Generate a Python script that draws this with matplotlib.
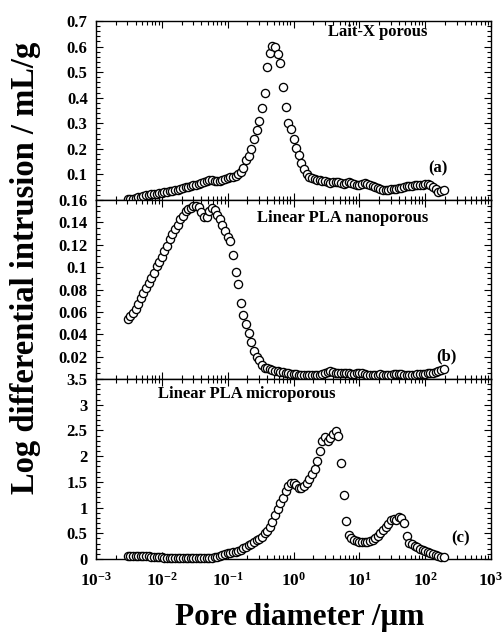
import matplotlib.pyplot as plt
import numpy as np
from matplotlib.ticker import MultipleLocator, LogLocator, NullFormatter

plt.rcParams['font.family'] = 'Liberation Serif'
plt.rcParams['font.weight'] = 'bold'
plt.rcParams['mathtext.fontset'] = 'custom'
plt.rcParams['mathtext.rm'] = 'Liberation Serif:bold'
plt.rcParams['mathtext.bf'] = 'Liberation Serif:bold'

# log10 of pore diameter (um) at each intrusion step
log_diameter = [
    -2.52, -2.48, -2.44, -2.40, -2.36, -2.32, -2.28, -2.24, -2.20, -2.16,
    -2.12, -2.08, -2.04, -2.00, -1.96, -1.92, -1.88, -1.84, -1.80, -1.76,
    -1.72, -1.68, -1.64, -1.60, -1.56, -1.52, -1.48, -1.44, -1.40, -1.36,
    -1.32, -1.28, -1.24, -1.20, -1.16, -1.12, -1.08, -1.04, -1.00, -0.96,
    -0.92, -0.88, -0.84, -0.80, -0.76, -0.72, -0.68, -0.64, -0.60, -0.56,
    -0.52, -0.48, -0.44, -0.40, -0.36, -0.32, -0.28, -0.24, -0.20, -0.16,
    -0.12, -0.08, -0.04, 0.00, 0.04, 0.08, 0.12, 0.16, 0.20, 0.24,
    0.28, 0.32, 0.36, 0.40, 0.44, 0.48, 0.52, 0.56, 0.60, 0.64,
    0.68, 0.72, 0.76, 0.80, 0.84, 0.88, 0.92, 0.96, 1.00, 1.04,
    1.08, 1.12, 1.16, 1.20, 1.24, 1.28, 1.32, 1.36, 1.40, 1.44,
    1.48, 1.52, 1.56, 1.60, 1.64, 1.68, 1.72, 1.76, 1.80, 1.84,
    1.88, 1.92, 1.96, 2.00, 2.04, 2.08, 2.12, 2.16, 2.20, 2.24,
    2.28,
]

# log differential intrusion, mL/g
lait_x_porous = [
    0.003, 0.004, 0.005, 0.008, 0.011, 0.013, 0.016, 0.019, 0.021, 0.022,
    0.023, 0.024, 0.026, 0.027, 0.030, 0.032, 0.034, 0.036, 0.038, 0.041,
    0.044, 0.046, 0.049, 0.051, 0.053, 0.057, 0.060, 0.063, 0.066, 0.071,
    0.076, 0.080, 0.080, 0.076, 0.073, 0.074, 0.079, 0.083, 0.085, 0.088,
    0.091, 0.095, 0.100, 0.110, 0.125, 0.158, 0.172, 0.200, 0.237, 0.274,
    0.310, 0.360, 0.420, 0.520, 0.575, 0.602, 0.598, 0.572, 0.535, 0.440,
    0.365, 0.300, 0.276, 0.238, 0.205, 0.177, 0.143, 0.120, 0.102, 0.091,
    0.085, 0.081, 0.079, 0.077, 0.075, 0.073, 0.069, 0.068, 0.071, 0.072,
    0.070, 0.066, 0.063, 0.066, 0.069, 0.066, 0.061, 0.059, 0.060, 0.063,
    0.065, 0.064, 0.058, 0.053, 0.050, 0.046, 0.042, 0.038, 0.039, 0.041,
    0.043, 0.042, 0.044, 0.046, 0.048, 0.051, 0.054, 0.055, 0.056, 0.057,
    0.058, 0.059, 0.060, 0.062, 0.063, 0.060, 0.052, 0.042, 0.031, 0.036,
    0.040,
]

pla_nanoporous = [
    0.054, 0.056, 0.059, 0.063, 0.067, 0.072, 0.077, 0.081, 0.086, 0.090,
    0.095, 0.101, 0.105, 0.109, 0.114, 0.119, 0.125, 0.130, 0.134, 0.138,
    0.143, 0.146, 0.150, 0.152, 0.153, 0.155, 0.155, 0.154, 0.149, 0.145,
    0.145, 0.150, 0.153, 0.151, 0.147, 0.143, 0.138, 0.132, 0.127, 0.123,
    0.111, 0.096, 0.085, 0.068, 0.057, 0.049, 0.041, 0.033, 0.025, 0.020,
    0.017, 0.0125, 0.010, 0.0095, 0.0085, 0.008, 0.0075, 0.007, 0.0065, 0.006,
    0.0055, 0.005, 0.0048, 0.0045, 0.0042, 0.004, 0.0038, 0.0035, 0.0033, 0.0032,
    0.0033, 0.0035, 0.0038, 0.004, 0.0045, 0.0055, 0.0065, 0.0068, 0.0062, 0.0058,
    0.0055, 0.0052, 0.005, 0.0055, 0.0052, 0.0045, 0.0045, 0.005, 0.0056, 0.0052,
    0.0045, 0.004, 0.0038, 0.0036, 0.0037, 0.004, 0.0042, 0.004, 0.0038, 0.0036,
    0.0038, 0.0042, 0.0045, 0.0046, 0.0042, 0.0038, 0.0035, 0.0033, 0.0036, 0.004,
    0.0042, 0.0044, 0.0045, 0.0048, 0.0052, 0.0055, 0.0056, 0.0062, 0.0072, 0.008,
    0.0092,
]

pla_microporous = [
    0.06, 0.06, 0.055, 0.05, 0.05, 0.055, 0.06, 0.055, 0.05, 0.045,
    0.04, 0.04, 0.035, 0.03, 0.025, 0.025, 0.02, 0.02, 0.015, 0.015,
    0.01, 0.01, 0.01, 0.01, 0.01, 0.01, 0.015, 0.015, 0.02, 0.02,
    0.02, 0.02, 0.025, 0.03, 0.04, 0.06, 0.08, 0.10, 0.11, 0.12,
    0.13, 0.145, 0.16, 0.18, 0.21, 0.24, 0.27, 0.30, 0.33, 0.36,
    0.39, 0.43, 0.50, 0.55, 0.62, 0.72, 0.86, 0.97, 1.08, 1.19,
    1.32, 1.42, 1.47, 1.47, 1.43, 1.39, 1.38, 1.42, 1.47, 1.55,
    1.65, 1.75, 1.90, 2.10, 2.30, 2.38, 2.30, 2.36, 2.44, 2.49,
    2.39, 1.87, 1.24, 0.74, 0.46, 0.40, 0.37, 0.35, 0.34, 0.34,
    0.33, 0.34, 0.35, 0.37, 0.40, 0.45, 0.50, 0.57, 0.63, 0.69,
    0.75, 0.77, 0.76, 0.82, 0.79, 0.70, 0.45, 0.32, 0.29, 0.26,
    0.23, 0.20, 0.17, 0.15, 0.13, 0.11, 0.09, 0.075, 0.06, 0.045,
    0.035,
]

sample_names = ['Lait-X porous', 'Linear PLA nanoporous', 'Linear PLA microporous']
panel_tags = ['(a)', '(b)', '(c)']

y_ticks = [
    [0, 0.1, 0.2, 0.3, 0.4, 0.5, 0.6, 0.7],
    [0, 0.02, 0.04, 0.06, 0.08, 0.10, 0.12, 0.14, 0.16],
    [0, 0.5, 1.0, 1.5, 2.0, 2.5, 3.0, 3.5],
]
y_ticklabels = [
    ['', '0.1', '0.2', '0.3', '0.4', '0.5', '0.6', '0.7'],
    ['', '0.02', '0.04', '0.06', '0.08', '0.1', '0.12', '0.14', '0.16'],
    ['0', '0.5', '1', '1.5', '2', '2.5', '3', '3.5'],
]
y_minor = [0.02, 0.005, 0.1]

x_ticks = [1e-3, 1e-2, 1e-1, 1e0, 1e1, 1e2, 1e3]
x_ticklabels = [r'$\mathbf{10^{-3}}$', r'$\mathbf{10^{-2}}$', r'$\mathbf{10^{-1}}$',
                r'$\mathbf{10^{0}}$', r'$\mathbf{10^{1}}$', r'$\mathbf{10^{2}}$',
                r'$\mathbf{10^{3}}$']

W, H = 503, 633
fig = plt.figure(figsize=(W / 100, H / 100), dpi=100)

# panel edges in pixels (top, bottom)
edges = [(21, 200), (200, 379), (379, 559)]
left_px, right_px = 96, 491

# sample name: (x, baseline y, ha) in axes fraction; tag: (x, centre y)
name_pos = [(0.84, 0.918, 'right'), (0.84, 0.877, 'right'), (0.157, 0.894, 'left')]
tag_pos = [(0.891, 0.179), (0.914, 0.128), (0.947, 0.117)]

diameter = 10 ** np.array(log_diameter)
series = [lait_x_porous, pla_nanoporous, pla_microporous]

for k in range(3):
    top, bot = edges[k]
    ax = fig.add_axes([left_px / W, 1 - bot / H, (right_px - left_px) / W, (bot - top) / H])
    ax.plot(diameter, series[k], 'o', ms=5.9, mfc='white', mec='black', mew=0.95,
            clip_on=False, zorder=3)
    ax.set_xscale('log')
    ax.set_xlim(1e-3, 1e3)
    ax.set_ylim(0, y_ticks[k][-1])
    ax.set_xticks(x_ticks)
    ax.xaxis.set_minor_locator(LogLocator(base=10, subs=np.arange(2, 10), numticks=20))
    ax.xaxis.set_minor_formatter(NullFormatter())
    if k == 2:
        ax.set_xticklabels(x_ticklabels)
    else:
        ax.set_xticklabels([])
    ax.set_yticks(y_ticks[k])
    ax.set_yticklabels(y_ticklabels[k])
    ax.yaxis.set_minor_locator(MultipleLocator(y_minor[k]))
    ax.tick_params(which='both', direction='in', top=True, right=True, width=0.8)
    ax.tick_params(which='major', length=5, labelsize=12, pad=6)
    ax.tick_params(axis='x', which='major', pad=9, labelsize=12.5)
    ax.tick_params(which='minor', length=2.8)
    for s in ax.spines.values():
        s.set_linewidth(1.0)
    nx, ny, ha = name_pos[k]
    ax.text(nx, ny, sample_names[k], transform=ax.transAxes, ha=ha, va='baseline',
            fontsize=12, fontweight='bold')
    tx, ty = tag_pos[k]
    ax.text(tx, ty, panel_tags[k], transform=ax.transAxes, ha='right', va='center',
            fontsize=12, fontweight='bold')

fig.text(26 / W, 1 - 268 / H, 'Log differential intrusion / mL/g', rotation=90,
         ha='center', va='center', fontsize=23.5, fontweight='bold')
fig.text(300 / W, 1 - 617 / H, 'Pore diameter /\u03bcm', ha='center', va='center',
         fontsize=22.5, fontweight='bold')

fig.savefig('out.png', dpi=100)
